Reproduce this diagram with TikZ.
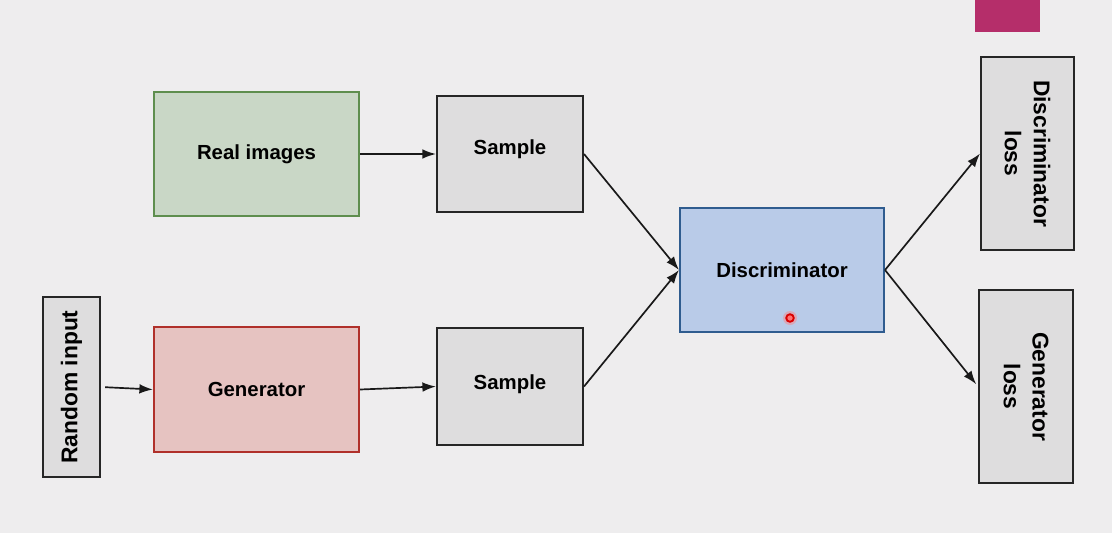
\documentclass[tikz,border=0pt]{standalone}
\usepackage{fontspec}
\setmainfont{Liberation Sans}
\usetikzlibrary{arrows.meta}

\definecolor{bgcol}{HTML}{EEEDEE}
\definecolor{graycol}{HTML}{DEDDDE}
\definecolor{greenfill}{HTML}{C9D7C6}
\definecolor{greenline}{HTML}{5E8E4E}
\definecolor{redfill}{HTML}{E6C3C1}
\definecolor{redline}{HTML}{B0302A}
\definecolor{bluefill}{HTML}{B9CBE8}
\definecolor{blueline}{HTML}{2F5C8F}
\definecolor{magentacol}{HTML}{B52E6A}

\tikzset{
    box/.style={draw, line width=1.4pt, inner sep=0pt, font=\fontsize{14.5}{17}\selectfont\bfseries},
    graybox/.style={box, draw=black!85, fill=graycol},
    sidebox/.style={graybox, font=\fontsize{16.2}{20.5}\selectfont\bfseries},
    flow/.style={-{Latex[length=3.4mm, width=2.4mm]}, line width=1.2pt, black!90},
}

\begin{document}
\begin{tikzpicture}[x=0.025cm, y=-0.025cm]
        \fill[bgcol] (0,0) rectangle (1112,533);
        \useasboundingbox (0,0) rectangle (1112,533);

        % corner patch
        \fill[magentacol] (975,-2) rectangle (1040,32);

        % left column
        \node[box, draw=greenline, fill=greenfill, minimum width=5.125cm, minimum height=3.1cm] (real) at (256.5,154) {Real images};
        \node[box, draw=redline, fill=redfill, minimum width=5.125cm, minimum height=3.125cm] (gen) at (256.5,389.5) {Generator};
        \node[sidebox, rotate=90, minimum width=4.5cm, minimum height=1.425cm] (rnd) at (71.5,387) {Random input};

        % samples
        \node[graybox, minimum width=3.65cm, minimum height=2.9cm, label={[font=\fontsize{14.5}{17}\selectfont\bfseries, yshift=0.125cm]center:Sample}] (samptop) at (510,154) {};
        \node[graybox, minimum width=3.65cm, minimum height=2.925cm, label={[font=\fontsize{14.5}{17}\selectfont\bfseries, yshift=0.05cm]center:Sample}] (sampbot) at (510,386.5) {};

        % discriminator and losses
        \node[box, draw=blueline, fill=bluefill, minimum width=5.1cm, minimum height=3.1cm] (disc) at (782,270) {Discriminator};
        \node[sidebox, rotate=-90, align=center, minimum width=4.825cm, minimum height=2.325cm] (dloss) at (1027.5,153.5) {Discriminator\\loss};
        \node[sidebox, rotate=-90, align=center, minimum width=4.825cm, minimum height=2.35cm] (gloss) at (1026,386.5) {Generator\\loss};

        % pointer dot
        \fill[red!50, opacity=0.45] (790,318) circle (7);
        \draw[red!85!black, line width=1.3pt, fill=red!55] (790,318) circle (3.8);

        \draw[flow] (real.east) -- (samptop.west);
        \draw[flow] (gen.east) -- (sampbot.west);
        \draw[flow, shorten <=3pt] (rnd.south) -- (gen.west);
        \draw[flow] (samptop.east) -- (disc.west);
        \draw[flow] (sampbot.east) -- (disc.west);
        \draw[flow] (disc.east) -- (dloss.south);
        \draw[flow, shorten >=2pt] (disc.east) -- (gloss.south);

    \end{tikzpicture}
\end{document}
